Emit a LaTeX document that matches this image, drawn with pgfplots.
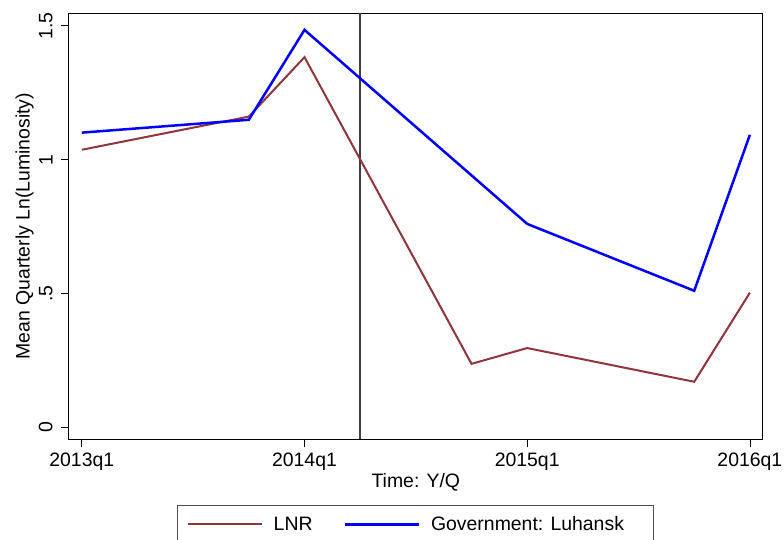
\documentclass[border=0pt]{standalone}
\usepackage{fontspec}
\setmainfont{Liberation Sans}
\usepackage{pgfplots}
\pgfplotsset{compat=1.18}
\definecolor{lnr}{RGB}{144,53,59}
\definecolor{gov}{RGB}{0,0,255}
\begin{document}
\begin{tikzpicture}
\begin{axis}[
    scale only axis,
    width=693.7bp, height=426bp,
    xmin=-0.23, xmax=12.23,
    ymin=-0.045, ymax=1.547,
    xtick={0,4,8,12},
    xticklabels={2013q1,2014q1,2015q1,2016q1},
    ytick={0,0.5,1,1.5},
    yticklabels={0,.5,1,1.5},
    xtick pos=left, ytick pos=left,
    tick align=outside,
    major tick length=8bp,
    tick style={black, line width=0.8bp},
    axis line style={line width=1bp},
    font=\fontsize{19.5}{23}\selectfont,
    xticklabel style={anchor=north, inner sep=0pt, yshift=-5.7bp},
    yticklabel style={xshift=-8.3bp, rotate=90, anchor=south, inner sep=0pt},
    xlabel={Time: Y/Q},
    ylabel={Mean Quarterly Ln(Luminosity)},
    every axis x label/.style={at={(axis description cs:0.5,0)}, anchor=base, yshift=-47.7bp, inner sep=0pt},
    every axis y label/.style={at={(axis description cs:-0.0505,0.5)}, rotate=90, anchor=south, inner sep=0pt},
    legend columns=2,
    legend style={at={(0.5,-0.1542)}, anchor=north, draw=black!70, line width=1bp,
        font=\fontsize{19.5}{23}\selectfont, inner xsep=9bp, inner ysep=9bp,
        /tikz/every odd column/.append style={column sep=9bp},
        /tikz/every even column/.append style={column sep=29bp}},
    legend image code/.code={\draw[#1] (0bp,0bp) -- (74bp,0bp);},
]
\addplot[black!75, line width=1.5bp, forget plot] coordinates {(5,-0.045) (5,1.547)};
\addplot[lnr, line width=2bp] coordinates {
    (0,1.037) (3,1.161) (4,1.383) (7,0.237) (8,0.296) (11,0.170) (12,0.503)};
\addplot[gov, line width=2.5bp] coordinates {
    (0,1.101) (3,1.149) (4,1.485) (8,0.760) (11,0.510) (12,1.093)};
\legend{LNR, Government: Luhansk\hspace*{19bp}}
\end{axis}
\pgfresetboundingbox
\path ([xshift=-69bp,yshift=-100.7bp]current axis.south west) rectangle ([xshift=21.3bp,yshift=13.3bp]current axis.north east);
\end{tikzpicture}
\end{document}
